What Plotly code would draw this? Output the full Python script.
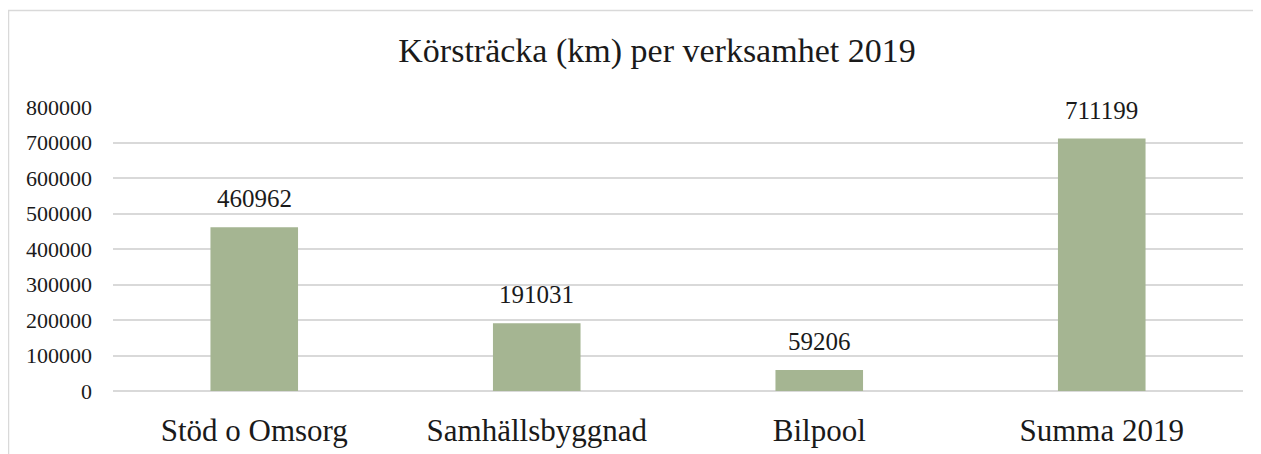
import plotly.graph_objects as go

categories = ["Stöd o Omsorg", "Samhällsbyggnad", "Bilpool", "Summa 2019"]
values = [460962, 191031, 59206, 711199]
y_ticks = [0, 100000, 200000, 300000, 400000, 500000, 600000, 700000, 800000]
title_text = "Körsträcka (km) per verksamhet 2019"

# page body has an 8px margin, so the figure sits at (8, 8)
W, H = 1253, 446
ml, mr, mt, mb = 105, 18, 99, 63
pw, ph = W - ml - mr, H - mt - mb

serif = "Liberation Serif"
bar_color = "#A5B592"
grid_color = "#D9D9D9"
text_color = "#1a1a1a"

fig = go.Figure(go.Bar(
    x=categories, y=values, marker_color=bar_color, width=0.31,
    marker_line_width=0, hoverinfo="skip"))

for c, v in zip(categories, values):
    fig.add_annotation(x=c, y=v, text=str(v), showarrow=False,
                       yanchor="bottom", yshift=13,
                       font=dict(family=serif, size=25, color=text_color))

fig.add_shape(type="rect", xref="paper", yref="paper",
              x0=(0.5 - ml) / pw, x1=1.5, y0=-1, y1=(H - mb - 2.5) / ph,
              line=dict(color=grid_color, width=1.5), fillcolor="rgba(0,0,0,0)",
              layer="below")

fig.update_layout(
    template="none",
    width=W, height=H, autosize=False,
    margin=dict(l=ml, r=mr, t=mt, b=mb, pad=0),
    paper_bgcolor="white", plot_bgcolor="white",
    title=dict(text=title_text, x=649 / W, xanchor="center",
               y=1 - 42 / H, yanchor="middle", automargin=False,
               font=dict(family=serif, size=34, color=text_color)),
    xaxis=dict(showgrid=False, showline=False, zeroline=False, automargin=False,
               tickfont=dict(family=serif, size=31, color=text_color),
               ticks="", ticklabelstandoff=18),
    yaxis=dict(range=[0, 800000], tickvals=y_ticks, automargin=False,
               ticktext=[str(t) for t in y_ticks],
               showgrid=True, gridcolor=grid_color, gridwidth=1.5,
               zeroline=True, zerolinecolor=grid_color, zerolinewidth=1.5,
               showline=False, ticks="", ticklabelstandoff=20,
               tickfont=dict(family=serif, size=22, color=text_color)),
    showlegend=False, bargap=0.69,
)

fig.write_html("out.html")
